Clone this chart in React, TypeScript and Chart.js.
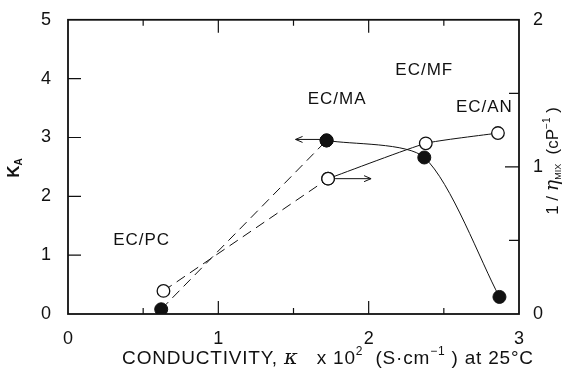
import { useEffect, useRef } from 'react';
import { Chart, registerables } from 'chart.js';
Chart.register(...registerables);

// Filled circles: K_A (left axis)
const systems = ['EC/PC', 'EC/MA', 'EC/MF', 'EC/AN'];
const condFilled = [0.62, 1.72, 2.37, 2.87];
const kA = [0.08, 2.95, 2.66, 0.29];
// Open circles: 1/eta_mix (right axis)
const condOpen = [0.635, 1.73, 2.38, 2.86];
const invVisc = [0.157, 0.92, 1.16, 1.23];
// Label anchor positions (in data units: conductivity, K_A)
const labelX = [0.49, 1.79, 2.37, 2.77];
const labelY = [1.25, 3.65, 4.14, 3.51];

const xTicks = [0, 1, 2, 3];
const leftTicks = [0, 1, 2, 3, 4, 5];
const rightTicks = [0, 1, 2];

const FONT = '"Liberation Sans", Arial, sans-serif';

function pts(xs: number[], ys: number[], from: number, to: number) {
  const out: { x: number; y: number }[] = [];
  for (let i = from; i <= to; i++) out.push({ x: xs[i], y: ys[i] });
  return out;
}

type Part = { t: string; font: string; dy?: number };
function drawRich(ctx: CanvasRenderingContext2D, parts: Part[], cx: number, y: number) {
  let total = 0;
  for (const p of parts) {
    ctx.font = p.font;
    total += ctx.measureText(p.t).width;
  }
  let x = cx - total / 2;
  ctx.textAlign = 'left';
  ctx.textBaseline = 'alphabetic';
  for (const p of parts) {
    ctx.font = p.font;
    ctx.fillText(p.t, x, y + (p.dy || 0));
    x += ctx.measureText(p.t).width;
  }
}

export default function App() {
  const ref = useRef<HTMLCanvasElement>(null);
  useEffect(() => {
    document.body.style.margin = '0';
    const canvas = ref.current!;
    const deco = {
      id: 'deco',
      beforeDatasetsDraw(chart: any) {
        const { ctx, chartArea: a, scales } = chart;
        const xs = scales.x, ys = scales.y, y2 = scales.y2;
        ctx.save();
        ctx.strokeStyle = '#111';
        ctx.lineWidth = 1.8;
        ctx.strokeRect(a.left, a.top, a.right - a.left, a.bottom - a.top);
        ctx.lineWidth = 1.2;
        ctx.beginPath();
        for (let v = 0.5; v < 3; v += 0.5) {
          const px = xs.getPixelForValue(v);
          const len = Number.isInteger(v) ? 13 : 6;
          ctx.moveTo(px, a.bottom); ctx.lineTo(px, a.bottom - len);
          ctx.moveTo(px, a.top); ctx.lineTo(px, a.top + len);
        }
        for (let v = 1; v < 5; v++) {
          const py = ys.getPixelForValue(v);
          ctx.moveTo(a.left, py); ctx.lineTo(a.left + 13, py);
        }
        for (let v = 0.5; v < 2; v += 0.5) {
          const py = y2.getPixelForValue(v);
          const len = Number.isInteger(v) ? 14 : 10;
          ctx.moveTo(a.right, py); ctx.lineTo(a.right - len, py);
        }
        ctx.stroke();
        ctx.restore();
      },
      afterDatasetsDraw(chart: any) {
        const { ctx, scales } = chart;
        const xs = scales.x, ys = scales.y, y2 = scales.y2;
        ctx.save();
        ctx.fillStyle = '#111';
        ctx.strokeStyle = '#111';
        // system labels
        (ctx as any).letterSpacing = '1px';
        ctx.font = `17px ${FONT}`;
        ctx.textAlign = 'center';
        ctx.textBaseline = 'middle';
        systems.forEach((s, i) => {
          ctx.fillText(s, xs.getPixelForValue(labelX[i]), ys.getPixelForValue(labelY[i]));
        });
        // arrows
        ctx.lineWidth = 1;
        const pf = { x: xs.getPixelForValue(condFilled[1]), y: ys.getPixelForValue(kA[1]) };
        const po = { x: xs.getPixelForValue(condOpen[1]), y: y2.getPixelForValue(invVisc[1]) };
        ctx.beginPath();
        let tip = pf.x - 31;
        ctx.moveTo(pf.x - 6, pf.y - 1); ctx.lineTo(tip, pf.y - 1);
        ctx.moveTo(tip + 7, pf.y - 4); ctx.lineTo(tip, pf.y - 1); ctx.lineTo(tip + 7, pf.y + 2);
        tip = po.x + 43;
        ctx.moveTo(po.x + 7, po.y); ctx.lineTo(tip, po.y);
        ctx.moveTo(tip - 7, po.y - 3); ctx.lineTo(tip, po.y); ctx.lineTo(tip - 7, po.y + 3);
        ctx.stroke();
        // bottom title
        (ctx as any).letterSpacing = '0.8px';
        const f = `19px ${FONT}`;
        const fs = `12px ${FONT}`;
        drawRich(ctx, [
          { t: 'CONDUCTIVITY, ', font: f },
          { t: 'κ', font: `italic 21px "DejaVu Serif", serif` },
          { t: '   x 10', font: f },
          { t: '2', font: fs, dy: -9 },
          { t: '  (S·cm', font: f },
          { t: '−1', font: fs, dy: -9 },
          { t: ' ) at 25°C', font: f },
        ], 328, 364);
        // left title K_A
        (ctx as any).letterSpacing = '0px';
        ctx.save();
        ctx.translate(19, 168);
        ctx.rotate(-Math.PI / 2);
        drawRich(ctx, [
          { t: 'K', font: `bold 17px ${FONT}` },
          { t: 'A', font: `bold 10px ${FONT}`, dy: 3 },
        ], 0, 0);
        ctx.restore();
        // right title
        ctx.save();
        ctx.translate(558, 161);
        ctx.rotate(-Math.PI / 2);
        drawRich(ctx, [
          { t: '1 / ', font: `17px ${FONT}` },
          { t: 'η', font: `italic 19px "DejaVu Serif", serif` },
          { t: 'MIX', font: `9px ${FONT}`, dy: 3 },
          { t: '  (cP', font: `17px ${FONT}` },
          { t: '−1', font: `10px ${FONT}`, dy: -8 },
          { t: ' )', font: `17px ${FONT}` },
        ], 0, 0);
        ctx.restore();
        ctx.restore();
      },
    };

    const filledStyle = {
      borderColor: '#111', backgroundColor: '#111', pointBackgroundColor: '#111',
      pointBorderColor: '#111', pointRadius: 6.5, pointBorderWidth: 1, borderWidth: 1, showLine: true,
      yAxisID: 'y',
    };
    const openStyle = {
      borderColor: '#111', backgroundColor: '#fff', pointBackgroundColor: '#fff',
      pointBorderColor: '#111', pointRadius: 6.3, pointBorderWidth: 1.3, borderWidth: 1, showLine: true,
      yAxisID: 'y2',
    };

    const chart = new Chart(canvas, {
      type: 'scatter',
      data: {
        datasets: [
          { ...openStyle, data: pts(condOpen, invVisc, 0, 1), borderDash: [10, 6], tension: 0 },
          { ...openStyle, data: pts(condOpen, invVisc, 1, 3), tension: 0.15 },
          { ...filledStyle, data: pts(condFilled, kA, 0, 1), borderDash: [10, 6], tension: 0 },
          { ...filledStyle, data: pts(condFilled, kA, 1, 3), tension: 0.25 },
        ] as any,
      },
      options: {
        responsive: false,
        devicePixelRatio: 1,
        animation: false,
        layout: { padding: { top: 18, left: 0, right: 0, bottom: 0 } },
        plugins: { legend: { display: false }, tooltip: { enabled: false } },
        scales: {
          x: {
            type: 'linear', position: 'bottom', min: 0, max: 3,
            afterBuildTicks: (s: any) => { s.ticks = xTicks.map((v) => ({ value: v })); },
            afterFit: (s: any) => { s.height = 55; },
            grid: { display: false }, border: { display: false },
            ticks: { color: '#111', font: { size: 18, family: FONT }, padding: 6, maxRotation: 0 },
          },
          y: {
            type: 'linear', position: 'left', min: 0, max: 5,
            afterBuildTicks: (s: any) => { s.ticks = leftTicks.map((v) => ({ value: v })); },
            afterFit: (s: any) => { s.width = 68; },
            grid: { display: false }, border: { display: false },
            ticks: { color: '#111', font: { size: 18, family: FONT }, padding: 9 },
          },
          y2: {
            type: 'linear', position: 'right', min: 0, max: 2,
            afterBuildTicks: (s: any) => { s.ticks = rightTicks.map((v) => ({ value: v })); },
            afterFit: (s: any) => { s.width = 46; },
            grid: { display: false }, border: { display: false },
            ticks: { color: '#111', font: { size: 18, family: FONT }, padding: 6 },
          },
        },
      } as any,
      plugins: [deco],
    });
    return () => chart.destroy();
  }, []);
  return <canvas ref={ref} width={565} height={369} style={{ display: 'block' }} />;
}
